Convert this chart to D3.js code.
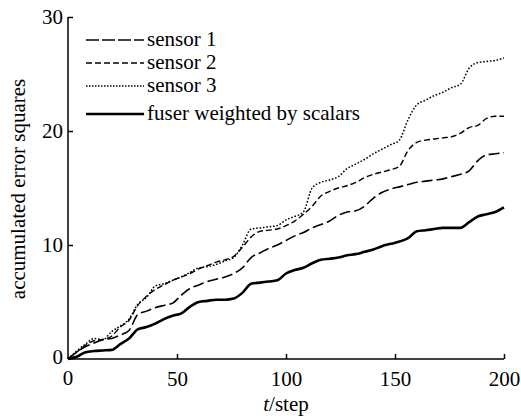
<!DOCTYPE html>
<html>
<head>
<meta charset="utf-8">
<script src="https://cdn.jsdelivr.net/npm/d3@7"></script>
<style>
  body { margin: 0; background: #fff; }
  svg text { font-family: "Liberation Serif", "Times New Roman", serif; fill: #000; }
</style>
</head>
<body>
<div id="chart"></div>
<script>
// steps read every 4 along t
const steps = d3.range(0, 201, 4);

const sensor1 = [0, 0.6, 1.1, 1.4, 1.7, 1.8, 2.1, 2.5, 3.9, 4.2, 4.5, 4.7, 4.9, 5.6, 6.2, 6.5, 6.8, 7.0, 7.2, 7.5,
  8.0, 8.9, 9.3, 9.7, 10.0, 10.4, 10.8, 11.1, 11.5, 11.8, 12.1, 12.6, 12.9, 13.0, 13.4, 14.1, 14.6, 14.9, 15.1, 15.3,
  15.5, 15.6, 15.7, 15.8, 16.0, 16.2, 16.5, 17.4, 17.9, 18.0, 18.1];
const sensor2 = [0, 0.6, 1.2, 1.6, 1.7, 2.0, 2.8, 3.4, 4.7, 5.5, 6.1, 6.5, 6.9, 7.2, 7.5, 7.9, 8.2, 8.5, 8.7, 9.0,
  9.8, 10.7, 11.2, 11.3, 11.4, 11.7, 12.1, 12.7, 13.4, 14.3, 14.7, 15.0, 15.2, 15.5, 15.9, 16.2, 16.4, 16.6, 16.9, 18.3,
  19.0, 19.2, 19.3, 19.4, 19.5, 19.8, 20.3, 20.5, 21.1, 21.3, 21.3];
const sensor3 = [0, 0.7, 1.3, 1.8, 1.7, 2.4, 2.9, 3.5, 4.8, 5.4, 6.4, 6.6, 6.9, 7.2, 7.6, 8.0, 8.1, 8.3, 8.6, 8.9,
  10.0, 11.4, 11.5, 11.6, 11.7, 12.2, 12.5, 12.9, 15.0, 15.5, 15.7, 16.0, 16.7, 17.1, 17.5, 18.0, 18.4, 18.8, 19.2, 21.0,
  22.3, 22.7, 23.1, 23.4, 23.8, 24.1, 25.5, 26.0, 26.1, 26.2, 26.4];
const fuser = [0, 0.2, 0.6, 0.7, 0.75, 0.8, 1.3, 1.8, 2.6, 2.8, 3.1, 3.5, 3.8, 4.0, 4.6, 5.0, 5.1, 5.2, 5.2, 5.3,
  5.8, 6.6, 6.7, 6.8, 6.9, 7.5, 7.8, 8.0, 8.4, 8.7, 8.8, 8.9, 9.1, 9.2, 9.4, 9.6, 9.9, 10.1, 10.3, 10.6,
  11.2, 11.3, 11.4, 11.5, 11.5, 11.5, 12.0, 12.5, 12.7, 12.9, 13.3];

const xTicks = [0, 50, 100, 150, 200];
const yTicks = [0, 10, 20, 30];
const seriesNames = ['sensor 1', 'sensor 2', 'sensor 3', 'fuser weighted by scalars'];

const width = 521, height = 418;
const margin = { top: 17, right: 17, bottom: 59, left: 68 };

const svg = d3.select('#chart').append('svg')
  .attr('width', width)
  .attr('height', height);

const x = d3.scaleLinear().domain([0, 200]).range([margin.left, width - margin.right]);
const y = d3.scaleLinear().domain([0, 30]).range([height - margin.bottom, margin.top]);

// axes, ticks pointing inward
const xAxis = svg.append('g')
  .attr('transform', 'translate(0,' + y(0) + ')')
  .call(d3.axisBottom(x).tickValues(xTicks.slice(1)).tickSize(-5).tickFormat(d3.format('d')));
xAxis.select('.domain').attr('d', 'M' + x(0) + ',0H' + x(200));
xAxis.selectAll('.tick text').attr('y', 12).attr('font-size', 21);

const yAxis = svg.append('g')
  .attr('transform', 'translate(' + x(0) + ',0)')
  .call(d3.axisLeft(y).tickValues(yTicks.slice(1)).tickSize(-5).tickFormat(d3.format('d')));
yAxis.select('.domain').attr('d', 'M0,' + y(0) + 'V' + y(30));
yAxis.selectAll('.tick text').attr('x', -5).attr('font-size', 21);

svg.selectAll('.domain, .tick line').attr('stroke', '#000').attr('stroke-width', 1.5);
svg.selectAll('.tick text').attr('font-family', '"Liberation Serif", serif');

// the shared zeros at the corner
svg.append('text').attr('x', x(0) - 5).attr('y', y(0) + 5).attr('text-anchor', 'end')
  .attr('font-size', 21).text('0');
svg.append('text').attr('x', x(0)).attr('y', y(0) + 26).attr('text-anchor', 'middle')
  .attr('font-size', 21).text('0');

// axis titles
svg.append('text')
  .attr('transform', 'translate(25,' + 189 + ') rotate(-90)')
  .attr('text-anchor', 'middle')
  .attr('font-size', 21)
  .text('accumulated error squares');

const xt = svg.append('text')
  .attr('x', (x(0) + x(200)) / 2)
  .attr('y', 411)
  .attr('text-anchor', 'middle')
  .attr('font-size', 21);
xt.append('tspan').attr('font-style', 'italic').text('t');
xt.append('tspan').text('/step');

// lines
const styles = [
  { data: sensor1, dash: '11,4', w: 1.6 },
  { data: sensor2, dash: '6,3', w: 1.4 },
  { data: sensor3, dash: '1.6,1.8', w: 1.5 },
  { data: fuser, dash: null, w: 2.6 }
];

const line = d3.line()
  .x((d, i) => x(steps[i]))
  .y(d => y(d))
  .curve(d3.curveMonotoneX);

styles.forEach(s => {
  svg.append('path')
    .datum(s.data)
    .attr('fill', 'none')
    .attr('stroke', '#000')
    .attr('stroke-width', s.w)
    .attr('stroke-dasharray', s.dash)
    .attr('d', line);
});

// legend
const legendY = [40, 63, 86, 114];
const legendDash = ['13,3', '6,3', '1.5,1.5', null];
seriesNames.forEach((name, i) => {
  svg.append('line')
    .attr('x1', 86).attr('x2', 144)
    .attr('y1', legendY[i]).attr('y2', legendY[i])
    .attr('stroke', '#000')
    .attr('stroke-width', styles[i].w)
    .attr('stroke-dasharray', legendDash[i]);
  svg.append('text')
    .attr('x', 147)
    .attr('y', legendY[i] + 6)
    .attr('font-size', 21)
    .text(name);
});
</script>
</body>
</html>
